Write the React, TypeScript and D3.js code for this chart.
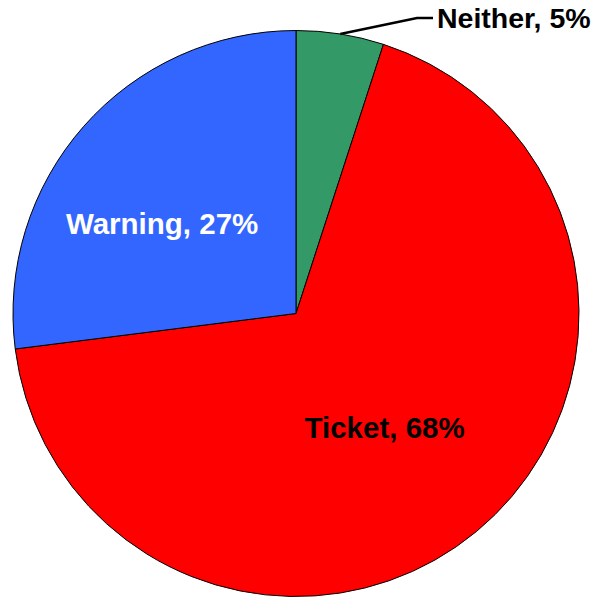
import React from "react";
import * as d3 from "d3";

const categories = ["Neither", "Ticket", "Warning"];
const values = [5, 68, 27];
const colors = ["#339966", "#FF0000", "#3366FF"];
const labelColors = ["#000000", "#000000", "#FFFFFF"];

const W = 598;
const H = 602;
const cx = 296;
const cy = 313.5;
const R = 283;

export default function App() {
  const pie = d3.pie<number>().sort(null).value((d) => d)(values);
  const arc = d3.arc<d3.PieArcDatum<number>>().innerRadius(0).outerRadius(R);
  const font = "'Liberation Sans', Arial, sans-serif";

  const ticket = pie[1];
  const warning = pie[2];
  const neither = pie[0];

  const polar = (a: number, r: number) => [Math.sin(a) * r, -Math.cos(a) * r];

  const tMid = (ticket.startAngle + ticket.endAngle) / 2 + 0.03;
  const [tx, ty] = polar(tMid, R * 0.51);
  const wAng = (warning.startAngle + warning.endAngle) / 2 - 0.131;
  const [wx, wy] = polar(wAng, R * 0.57);

  const nMid = (neither.startAngle + neither.endAngle) / 2;
  const [n0x, n0y] = polar(nMid, R);
  const n1x = 417 - cx;
  const n1y = 18 - cy;
  const n2x = 433 - cx;

  return (
    <svg
      width={W}
      height={H}
      style={{ position: "absolute", left: 0, top: 0, background: "#fff" }}
    >
      <g transform={`translate(${cx},${cy})`}>
        {pie.map((p, i) => (
          <path
            key={categories[i]}
            d={arc(p) || ""}
            fill={colors[i]}
            stroke="#000"
            strokeWidth={1}
          />
        ))}
        <polyline
          points={`${n0x},${n0y} ${n1x},${n1y} ${n2x},${n1y}`}
          fill="none"
          stroke="#000"
          strokeWidth={2.5}
        />
        <text
          x={n2x + 4}
          y={n1y}
          dy="0.35em"
          fontFamily={font}
          fontWeight="bold"
          fontSize={28.5}
          fill={labelColors[0]}
        >
          {`${categories[0]}, ${values[0]}%`}
        </text>
        <text
          x={tx}
          y={ty}
          dy="0.35em"
          textAnchor="middle"
          fontFamily={font}
          fontWeight="bold"
          fontSize={29.5}
          fill={labelColors[1]}
        >
          {`${categories[1]}, ${values[1]}%`}
        </text>
        <text
          x={wx}
          y={wy}
          dy="0.35em"
          textAnchor="middle"
          fontFamily={font}
          fontWeight="bold"
          fontSize={29.5}
          fill={labelColors[2]}
        >
          {`${categories[2]}, ${values[2]}%`}
        </text>
      </g>
    </svg>
  );
}
